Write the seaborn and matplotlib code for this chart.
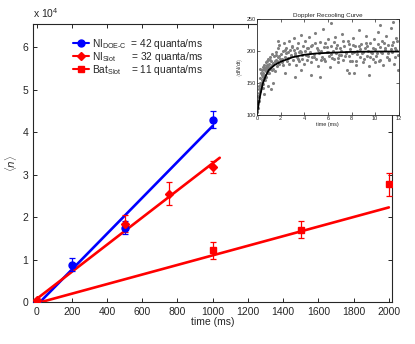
import numpy as np
import pandas as pd
import matplotlib
matplotlib.use("Agg")
import matplotlib.pyplot as plt
from matplotlib.lines import Line2D
from matplotlib.ticker import FuncFormatter
import seaborn as sns

# --- data main plot (quanta vs time in ms) ---
doe_t = [0, 200, 500, 1000]
doe_n = [0, 8800, 17500, 43000]
doe_err = [300, 1500, 1500, 2000]
doe_fit_t = [20, 1000]
doe_fit_n = [0, 41500]

slot_t = [0, 500, 750, 1000]
slot_n = [500, 18500, 25500, 31800]
slot_err = [300, 2000, 2700, 1500]
slot_fit_t = [0, 1040]
slot_fit_n = [700, 34000]

bat_t = [0, 1000, 1500, 2000]
bat_n = [0, 12200, 17000, 27700]
bat_err = [300, 2000, 2000, 2800]
bat_fit_t = [0, 2000]
bat_fit_n = [-300, 22300]

labels = [r"NI$_{\rm DOE\text{-}C}$  = 42 quanta/ms",
          r"NI$_{\rm Slot}$      = 32 quanta/ms",
          r"Bat$_{\rm Slot}$    = 11 quanta/ms"]

# --- data inset (recooling curve) ---
rc_t = [0.02, 0.05, 0.08, 0.1, 0.12, 0.15, 0.18, 0.2, 0.22, 0.25, 0.28, 0.3, 0.33, 0.35, 0.38,
        0.4, 0.43, 0.45, 0.48, 0.5, 0.52, 0.55, 0.58, 0.6, 0.63, 0.65, 0.68, 0.7, 0.73, 0.75,
        0.78, 0.8, 0.83, 0.85, 0.88, 0.9, 0.93, 0.95, 0.98, 0.3, 0.6, 0.9,
        1.02, 1.05, 1.1, 1.15, 1.2, 1.25, 1.3, 1.35, 1.4, 1.45, 1.5, 1.55, 1.6, 1.65, 1.7, 1.75,
        1.8, 1.85, 1.9, 1.95, 1.4, 1.8, 1.2,
        2.05, 2.1, 2.2, 2.25, 2.3, 2.4, 2.5, 2.55, 2.6, 2.7, 2.75, 2.8, 2.9, 3.0, 3.05, 3.1,
        3.2, 3.3, 3.35, 3.4, 3.5, 3.6, 3.65, 3.7, 3.8, 3.9, 3.95, 2.4, 3.2, 3.7,
        4.05, 4.1, 4.2, 4.3, 4.35, 4.4, 4.5, 4.6, 4.7, 4.8, 4.9, 5.0, 5.1, 5.2, 5.3, 5.4, 5.5,
        5.6, 5.7, 5.8, 5.9, 6.0, 6.1, 6.2, 6.3, 6.4, 6.5, 6.6, 6.7, 6.8, 6.9, 7.0, 7.1, 7.2,
        7.3, 7.4, 7.5, 7.6, 7.7, 7.8, 7.9, 8.0, 8.1, 8.2, 8.3, 8.4, 8.5, 8.6, 8.7, 8.8, 8.9,
        9.0, 9.1, 9.2, 9.3, 9.4, 9.5, 9.6, 9.7, 9.8, 9.9, 10.0, 10.1, 10.2, 10.3, 10.4, 10.5,
        10.6, 10.7, 10.8, 10.9, 11.0, 11.1, 11.2, 11.3, 11.4, 11.5, 11.6, 11.7, 11.8, 11.9,
        11.95, 5.3, 7.8, 9.5, 6.3, 10.4, 11.5, 4.6, 8.2,
        4.15, 4.55, 4.85, 5.15, 5.45, 5.75, 6.05, 6.35, 6.65, 6.95, 7.25, 7.55, 7.85, 8.15,
        8.45, 8.75, 9.05, 9.35, 9.65, 9.95, 10.25, 10.55, 10.85, 11.15, 11.45, 11.75,
        2.15, 2.45, 2.85, 3.15, 3.45, 3.75, 1.12, 1.38, 1.62, 1.88, 0.45, 0.7, 0.85,
        4.25, 4.65, 4.95, 5.25, 5.65, 5.95, 6.25, 6.55, 6.85, 7.15, 7.45, 7.75, 8.05, 8.35,
        8.65, 8.95, 9.25, 9.55, 9.85, 10.15, 10.45, 10.75, 11.05, 11.35, 11.65, 11.85,
        2.35, 2.65, 2.95, 3.25, 3.55, 3.85, 1.08, 1.32, 1.58, 1.72, 0.55, 0.65, 0.15]
rc_rate = [104, 118, 110, 130, 122, 140, 128, 145, 135, 150, 138, 158, 147, 165, 142,
           155, 170, 150, 160, 175, 148, 165, 172, 158, 178, 162, 170, 155, 182, 168,
           175, 160, 185, 172, 178, 165, 188, 175, 170, 172, 132, 145,
           180, 165, 190, 175, 185, 170, 195, 180, 172, 192, 184, 168, 198, 186, 176, 205,
           190, 180, 210, 188, 150, 215, 140,
           195, 182, 200, 178, 212, 190, 205, 185, 198, 215, 180, 202, 192, 208, 186, 220,
           196, 178, 205, 190, 212, 184, 200, 225, 193, 208, 180, 165, 160, 170,
           200, 215, 186, 205, 192, 222, 198, 182, 210, 195, 228, 188, 205, 176, 214, 200, 190,
           235, 206, 184, 198, 218, 192, 175, 208, 200, 188, 222, 196, 210, 182, 204, 193, 226,
           186, 207, 198, 170, 215, 192, 203, 185, 220, 198, 208, 178, 200, 232, 190, 211, 196,
           182, 205, 224, 192, 200, 176, 212, 196, 188, 218, 203, 192, 230, 184, 206, 198,
           215, 178, 201, 224, 190, 209, 186, 236, 199, 214, 180, 205, 220, 194,
           170, 160, 165, 162, 243, 240, 245, 162, 166,
           194, 208, 190, 202, 186, 212, 199, 189, 205, 193, 216, 197, 184, 210, 195, 203,
           188, 207, 199, 183, 211, 196, 204, 187, 209, 201,
           188, 197, 193, 201, 188, 199, 172, 181, 183, 192, 162, 160, 168,
           205, 191, 213, 197, 187, 206, 195, 214, 189, 200, 192, 211, 196, 185, 207, 199,
           213, 190, 204, 196, 186, 212, 197, 203, 191, 215,
           202, 189, 206, 194, 198, 188, 186, 178, 194, 185, 142, 172, 122]
fit_t = [0, 0.25, 0.5, 0.75, 1, 1.5, 2, 3, 4, 5, 6, 8, 10, 12]
fit_rate = [100, 128, 149, 161, 170, 178, 183, 190, 194, 196, 197, 198.5, 199, 199]

sns.set_style("ticks")
plt.rcParams["font.family"] = ["Liberation Sans", "DejaVu Sans"]
plt.rcParams["mathtext.fontset"] = "custom"
plt.rcParams["mathtext.rm"] = "Liberation Sans"

fig = plt.figure(figsize=(4.15, 3.44), dpi=100)
ax = fig.add_axes([0.0795, 0.122, 0.866, 0.808])

blue = "#0000ff"
red = "#ff0000"

sns.lineplot(x=doe_fit_t, y=doe_fit_n, ax=ax, color=blue, lw=1.9, zorder=3)
sns.lineplot(x=slot_fit_t, y=slot_fit_n, ax=ax, color=red, lw=1.9, zorder=3)
sns.lineplot(x=bat_fit_t, y=bat_fit_n, ax=ax, color=red, lw=1.9, zorder=3)

ax.errorbar(doe_t, doe_n, yerr=doe_err, fmt="o", color=blue, ms=5, capsize=2.5,
            elinewidth=0.9, capthick=0.9, zorder=4)
ax.errorbar(slot_t, slot_n, yerr=slot_err, fmt="D", color=red, ms=4, capsize=2.5,
            elinewidth=0.9, capthick=0.9, zorder=4)
ax.errorbar(bat_t, bat_n, yerr=bat_err, fmt="s", color=red, ms=5, capsize=2.5,
            elinewidth=0.9, capthick=0.9, zorder=4)

ax.set_xlim(-20, 2020)
ax.set_ylim(0, 65500)
ax.set_xticks(range(0, 2001, 200))
ax.set_yticks(range(0, 60001, 10000))
ax.yaxis.set_major_formatter(FuncFormatter(lambda v, p: f"{v / 1e4:g}"))
ax.tick_params(direction="in", top=True, right=True, labelsize=7.5, length=3, width=0.7)
for s in ax.spines.values():
    s.set_linewidth(0.8)
ax.set_xlabel("time (ms)", fontsize=7.5, labelpad=1)
ax.xaxis.set_label_coords(0.5, -0.055)
ax.set_ylabel(r"$\langle n \rangle$", fontsize=7.5, labelpad=2)
ax.text(0.0, 1.015, r"x 10$^4$", transform=ax.transAxes, fontsize=7.5, ha="left", va="bottom")

handles = [Line2D([], [], color=blue, marker="o", ms=5, lw=1.5),
           Line2D([], [], color=red, marker="D", ms=4, lw=1.5),
           Line2D([], [], color=red, marker="s", ms=5, lw=1.5)]
ax.legend(handles, labels, loc="upper left", bbox_to_anchor=(0.1, 0.968), frameon=False,
          fontsize=7.3, handlelength=1.6, handletextpad=0.3, labelspacing=-0.1,
          borderaxespad=0)

# --- inset ---
ins = fig.add_axes([0.619, 0.666, 0.342, 0.279])
ins.set_facecolor("white")
df = pd.DataFrame({"t": rc_t, "rate": rc_rate})
sns.scatterplot(data=df, x="t", y="rate", ax=ins, color="#808080", s=5, linewidth=0,
                edgecolor=None)
sns.lineplot(x=fit_t, y=fit_rate, ax=ins, color="black", lw=1.3)
ins.set_xlim(0, 12)
ins.set_ylim(100, 250)
ins.set_xticks(range(0, 13, 2))
ins.set_yticks([100, 150, 200, 250])
ins.tick_params(direction="in", top=True, right=True, labelsize=4, length=2, width=0.5, pad=1)
for s in ins.spines.values():
    s.set_linewidth(0.6)
ins.set_title("Doppler Recooling Curve", fontsize=4.5, pad=1.5)
ins.set_xlabel("time (ms)", fontsize=4, labelpad=0.5)
ins.set_ylabel(r"$\langle$dN/dt$\rangle$", fontsize=4, labelpad=1)

fig.savefig("out.png", dpi=100)
